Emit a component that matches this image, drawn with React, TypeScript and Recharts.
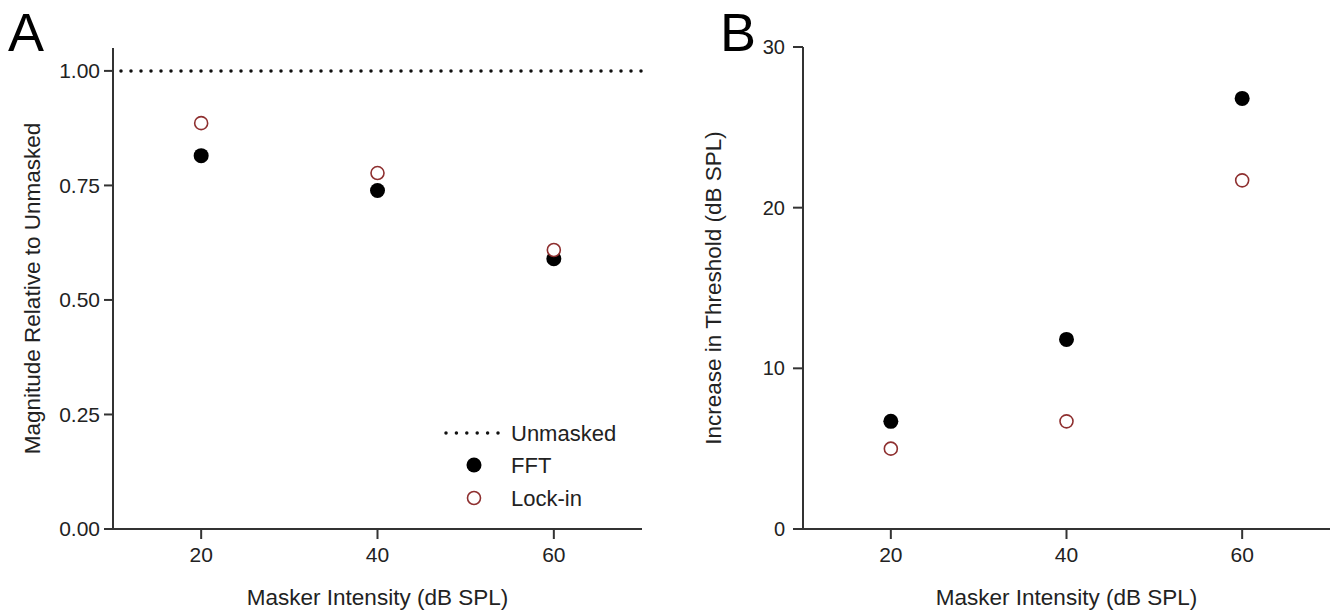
import { ScatterChart, Scatter, XAxis, YAxis, ReferenceLine, Label } from "recharts";

const maskerIntensity = [20, 40, 60];
const xTicks = [20, 40, 60];

// panel A: magnitude relative to unmasked
const fftMagnitude = [0.815, 0.739, 0.59];
const lockInMagnitude = [0.886, 0.777, 0.609];
const unmaskedLevel = 1.0;
const magnitudeTicks = [0, 0.25, 0.5, 0.75, 1.0];
const legendNames = ["Unmasked", "FFT", "Lock-in"];

// panel B: increase in threshold (dB SPL)
const fftThreshold = [6.7, 11.8, 26.8];
const lockInThreshold = [5.0, 6.7, 21.7];
const thresholdTicks = [0, 10, 20, 30];

const FONT = "'Liberation Sans', Arial, sans-serif";
const INK = "#222";
const AXIS = "#333";
const LOCKIN_COLOR = "#8e2f2f";

const toPoints = (xs: number[], ys: number[]) => xs.map((x, i) => ({ x, y: ys[i] }));

const FilledDot = (props: any) => <circle cx={props.cx} cy={props.cy} r={7.5} fill="#000" />;
const OpenDot = (props: any) => (
  <circle cx={props.cx} cy={props.cy} r={6.5} fill="#fff" stroke={LOCKIN_COLOR} strokeWidth={1.6} />
);

const yTitle = (text: string, x: number) => (props: any) => {
  const vb = props.viewBox || { y: 0, height: 0 };
  const cy = vb.y + vb.height / 2;
  return (
    <text
      x={x}
      y={cy}
      transform={`rotate(-90 ${x} ${cy})`}
      textAnchor="middle"
      dominantBaseline="central"
      fontFamily={FONT}
      fontSize={22.5}
      fill={INK}
    >
      {text}
    </text>
  );
};

const xTitle = (text: string) => (props: any) => {
  const vb = props.viewBox || { x: 0, width: 0 };
  return (
    <text
      x={vb.x + vb.width / 2}
      y={597}
      textAnchor="middle"
      dominantBaseline="central"
      fontFamily={FONT}
      fontSize={22.5}
      fill={INK}
    >
      {text}
    </text>
  );
};

// legend drawn as an overlay so it doesn't eat plot space
const MagnitudeLegend = () => (
  <svg width={200} height={100} style={{ position: "absolute", left: 440, top: 415 }}>
    <line x1={6} x2={58} y1={18} y2={18} stroke="#111" strokeWidth={3.5} strokeDasharray="0 10.4" strokeLinecap="round" />
    <circle cx={34} cy={50} r={7.5} fill="#000" />
    <circle cx={34} cy={83} r={6.5} fill="#fff" stroke={LOCKIN_COLOR} strokeWidth={1.6} />
    {legendNames.map((name, i) => (
      <text key={name} x={71} y={[18, 50, 83][i]} dominantBaseline="central" fontFamily={FONT} fontSize={22} fill={INK}>
        {name}
      </text>
    ))}
  </svg>
);

const PanelLetter = ({ letter, left }: { letter: string; left: number }) => (
  <div
    style={{
      position: "absolute",
      left,
      top: 2,
      fontFamily: FONT,
      fontSize: 54,
      lineHeight: "60px",
      color: "#000",
    }}
  >
    {letter}
  </div>
);

const axisLine = { stroke: AXIS, strokeWidth: 2 };

export default function App() {
  const magFft = toPoints(maskerIntensity, fftMagnitude);
  const magLock = toPoints(maskerIntensity, lockInMagnitude);
  const thrFft = toPoints(maskerIntensity, fftThreshold);
  const thrLock = toPoints(maskerIntensity, lockInThreshold);

  return (
    <div style={{ position: "absolute", left: 0, top: 0, width: 1340, height: 614, background: "#fff" }}>
      <div style={{ position: "absolute", left: 0, top: 0 }}>
        <ScatterChart width={670} height={614} margin={{ top: 48, right: 28, bottom: 0, left: 53 }}>
          <XAxis
            type="number"
            dataKey="x"
            domain={[10, 70]}
            ticks={xTicks}
            height={85}
            axisLine={axisLine}
            tickLine={axisLine}
            tickSize={10}
            tickMargin={8}
            tick={{ fill: INK, fontSize: 21, fontFamily: FONT }}
          >
            <Label content={xTitle("Masker Intensity (dB SPL)")} />
          </XAxis>
          <YAxis
            type="number"
            dataKey="y"
            domain={[0, 1.05]}
            ticks={magnitudeTicks}
            width={60}
            axisLine={axisLine}
            tickLine={axisLine}
            tickSize={9}
            tickMargin={4}
            tickFormatter={(v: number) => v.toFixed(2)}
            tick={{ fill: INK, fontSize: 21, fontFamily: FONT }}
          >
            <Label content={yTitle("Magnitude Relative to Unmasked", 32)} />
          </YAxis>
          <ReferenceLine
            y={unmaskedLevel}
            stroke="#111"
            strokeWidth={3.5}
            strokeDasharray="0 10"
            strokeDashoffset={-8}
            strokeLinecap="round"
          />
          <Scatter name="FFT" data={magFft} shape={FilledDot} isAnimationActive={false} />
          <Scatter name="Lock-in" data={magLock} shape={OpenDot} isAnimationActive={false} />
        </ScatterChart>
        <MagnitudeLegend />
      </div>
      <div style={{ position: "absolute", left: 670, top: 0 }}>
        <ScatterChart width={670} height={614} margin={{ top: 47, right: 10, bottom: 0, left: 73 }}>
          <XAxis
            type="number"
            dataKey="x"
            domain={[10, 70]}
            ticks={xTicks}
            height={85}
            axisLine={axisLine}
            tickLine={axisLine}
            tickSize={10}
            tickMargin={8}
            tick={{ fill: INK, fontSize: 21, fontFamily: FONT }}
          >
            <Label content={xTitle("Masker Intensity (dB SPL)")} />
          </XAxis>
          <YAxis
            type="number"
            dataKey="y"
            domain={[0, 30]}
            ticks={thresholdTicks}
            width={60}
            axisLine={axisLine}
            tickLine={axisLine}
            tickSize={10}
            tickMargin={8}
            tick={{ fill: INK, fontSize: 20, fontFamily: FONT }}
          >
            <Label content={yTitle("Increase in Threshold (dB SPL)", 43)} />
          </YAxis>
          <Scatter name="FFT" data={thrFft} shape={FilledDot} isAnimationActive={false} />
          <Scatter name="Lock-in" data={thrLock} shape={OpenDot} isAnimationActive={false} />
        </ScatterChart>
      </div>
      <PanelLetter letter="A" left={8} />
      <PanelLetter letter="B" left={720} />
    </div>
  );
}
